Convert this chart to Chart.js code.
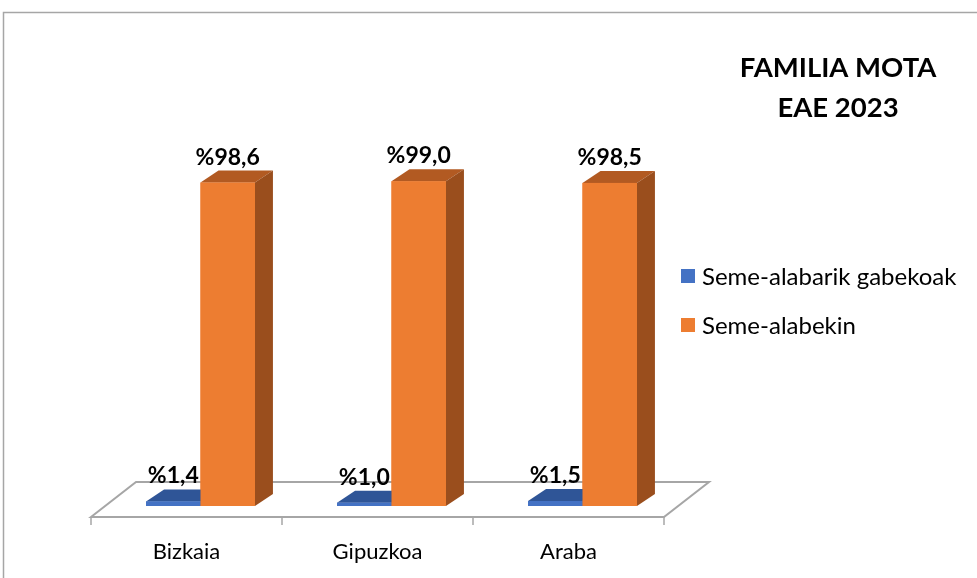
<!DOCTYPE html>
<html>
<head>
<meta charset="utf-8">
<script src="https://cdn.jsdelivr.net/npm/chart.js@4.4.1/dist/chart.umd.min.js"></script>
<style>
  html, body { margin: 0; padding: 0; background: #fff; }
  #chart { display: block; }
</style>
</head>
<body>
<canvas id="chart" width="977" height="578"></canvas>
<script>
// Data
const categories = ['Bizkaia', 'Gipuzkoa', 'Araba'];
const seriesNames = ['Seme-alabarik gabekoak', 'Seme-alabekin'];
const withoutChildren = [1.4, 1.0, 1.5];
const withChildren = [98.6, 99.0, 98.5];
const titleLines = ['FAMILIA MOTA', 'EAE 2023'];

// colours: front, top, side
const faceColors = [
    { front: '#4472C4', top: '#2F5597', side: '#284A85' },
    { front: '#ED7D31', top: '#B25A22', side: '#9A4E1D' }
];

const FONT = 'Lato, "Open Sans", sans-serif';
const depthX = 18, depthY = -12;      // bar depth
const floorShift = -14;               // front floor edge vs bar front
const floorDepthX = 45, floorDepthY = -35;

function fmt(v) {
    return '%' + v.toFixed(1).replace('.', ',');
}

function poly(ctx, pts, color) {
    ctx.beginPath();
    ctx.moveTo(pts[0][0], pts[0][1]);
    for (let i = 1; i < pts.length; i++) ctx.lineTo(pts[i][0], pts[i][1]);
    ctx.closePath();
    ctx.fillStyle = color;
    ctx.fill();
}

const threeD = {
    id: 'threeD',
    beforeDraw(chart) {
        const ctx = chart.ctx;
        const area = chart.chartArea;
        const xs = chart.scales.x;
        ctx.save();
        ctx.fillStyle = '#fff';
        ctx.fillRect(0, 0, chart.width, chart.height);

        // outer frame
        ctx.strokeStyle = '#A6A6A6';
        ctx.lineWidth = 1.5;
        ctx.strokeRect(3.5, 12.5, chart.width + 10, chart.height + 10);

        // floor
        const fy = area.bottom + 11;
        const fl = area.left + floorShift, fr = area.right + floorShift;
        ctx.beginPath();
        ctx.moveTo(fl, fy);
        ctx.lineTo(fl + floorDepthX, fy + floorDepthY);
        ctx.lineTo(fr + floorDepthX, fy + floorDepthY);
        ctx.lineTo(fr, fy);
        ctx.closePath();
        ctx.fillStyle = '#fff';
        ctx.fill();
        ctx.strokeStyle = '#A6A6A6';
        ctx.lineWidth = 2;
        ctx.stroke();

        // category ticks
        const step = (area.right - area.left) / categories.length;
        ctx.lineWidth = 1.5;
        for (let k = 0; k <= categories.length; k++) {
            const tx = fl + k * step;
            ctx.beginPath();
            ctx.moveTo(tx, fy);
            ctx.lineTo(tx, fy + 8);
            ctx.stroke();
        }

        // category labels
        ctx.fillStyle = '#000';
        ctx.font = '22px ' + FONT;
        ctx.textAlign = 'center';
        ctx.textBaseline = 'alphabetic';
        categories.forEach((c, i) => {
            ctx.fillText(c, xs.getPixelForValue(i) + floorShift, 559);
        });

        // title
        ctx.font = 'bold 27.5px ' + FONT;
        ctx.fillText(titleLines[0], 838, 77);
        ctx.fillText(titleLines[1], 838, 117);

        // legend
        ctx.textAlign = 'left';
        ctx.font = '24px ' + FONT;
        seriesNames.forEach((n, i) => {
            const ly = 276 + i * 49;
            ctx.fillStyle = faceColors[i].front;
            ctx.fillRect(681, ly - 7, 14, 14);
            ctx.fillStyle = '#000';
            ctx.fillText(n, 702, ly + 9);
        });
        ctx.restore();
    },
    afterDatasetsDraw(chart) {
        const ctx = chart.ctx;
        ctx.save();
        const labels = [];
        categories.forEach((c, i) => {
            chart.data.datasets.forEach((ds, d) => {
                const el = chart.getDatasetMeta(d).data[i];
                const p = el.getProps(['x', 'y', 'base', 'width'], true);
                const l = p.x - p.width / 2, r = p.x + p.width / 2;
                const col = faceColors[d];
                poly(ctx, [[l, p.y], [l + depthX, p.y + depthY], [r + depthX, p.y + depthY], [r, p.y]], col.top);
                poly(ctx, [[r, p.y], [r + depthX, p.y + depthY], [r + depthX, p.base + depthY], [r, p.base]], col.side);
                ctx.fillStyle = col.front;
                ctx.fillRect(l, p.y, r - l, p.base - p.y);
                labels.push({ text: fmt(ds.data[i]), x: p.x, y: p.y + depthY - 6 });
            });
        });
        ctx.fillStyle = '#000';
        ctx.font = 'bold 23px ' + FONT;
        ctx.textAlign = 'center';
        ctx.textBaseline = 'alphabetic';
        labels.forEach(lb => ctx.fillText(lb.text, lb.x, lb.y));
        ctx.restore();
    }
};

new Chart(document.getElementById('chart'), {
    type: 'bar',
    data: {
        labels: categories,
        datasets: [
            { label: seriesNames[0], data: withoutChildren, backgroundColor: faceColors[0].front },
            { label: seriesNames[1], data: withChildren, backgroundColor: faceColors[1].front }
        ]
    },
    options: {
        responsive: false,
        animation: false,
        layout: { padding: { left: 105, right: 299, top: 178, bottom: 72 } },
        datasets: { bar: { barPercentage: 1, categoryPercentage: 0.57 } },
        scales: {
            x: { display: false },
            y: { display: false, min: 0, max: 100 }
        },
        plugins: {
            legend: { display: false },
            tooltip: { enabled: false }
        }
    },
    plugins: [threeD]
});
</script>
</body>
</html>
